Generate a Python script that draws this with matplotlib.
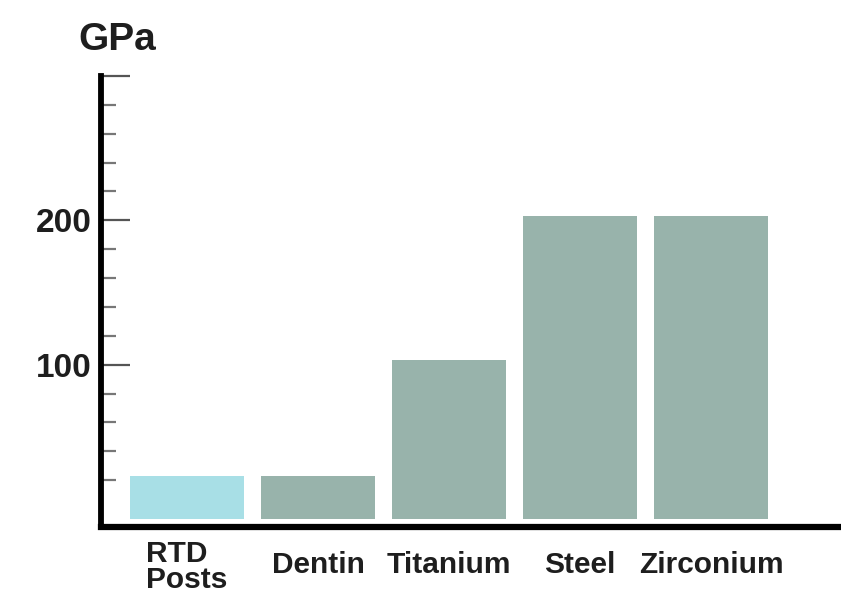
import matplotlib; matplotlib.use('Agg')
import matplotlib.pyplot as plt
import matplotlib.transforms as mtransforms
import numpy as np

plt.rcParams['font.family'] = ['Liberation Sans', 'DejaVu Sans']

#############################################################################
materials = ['RTD\nPosts', 'Dentin', 'Titanium', 'Steel', 'Zirconium']
modulus = [23, 23, 103, 203, 203]   # GPa
bar_colors = ['#a8dfe6', '#98b3ab', '#98b3ab', '#98b3ab', '#98b3ab']
major_ticks = [100, 200, 300]
major_labels = ['100', '200', '']
minor_ticks = [20, 40, 60, 80, 120, 140, 160, 180, 220, 240, 260, 280]
#############################################################################

bar_base = -7      # bars sit a bit above the axis line
text_col = '#1e1e1e'

fig = plt.figure(figsize=(8.41, 5.98), dpi=100)
ax = fig.add_axes([0.1201, 0.1187, 0.880, 0.7542])

x = np.arange(len(materials))
heights = np.array(modulus) - bar_base
ax.bar(x, heights, bottom=bar_base, width=0.87, color=bar_colors, linewidth=0)

ax.set_xlim(-0.656, 4.992)
ax.set_ylim(-12.5, 300)

for s in ['top', 'right']:
    ax.spines[s].set_visible(False)
ax.spines['left'].set_linewidth(4.2)
ax.spines['bottom'].set_linewidth(4.5)
ax.spines['left'].set_color('black')
ax.spines['bottom'].set_color('black')

ax.set_yticks(major_ticks)
ax.set_yticklabels(major_labels)
ax.set_yticks(minor_ticks, minor=True)
ax.tick_params(axis='y', which='major', direction='in', length=21, width=1.6,
               color='#555555', pad=6.5, labelsize=24, labelcolor=text_col)
ax.tick_params(axis='y', which='minor', direction='in', length=11, width=1.6,
               color='#777777')
for lab in ax.get_yticklabels():
    lab.set_fontweight('bold')

ax.set_xticks(x)
ax.set_xticklabels(materials, fontsize=21.5, fontweight='bold', color=text_col,
                   va='center', linespacing=0.9)
ax.tick_params(axis='x', length=0, pad=27)
xlabs = ax.get_xticklabels()
for lab in xlabs:
    lab.set_multialignment('left')
# two-line label sits a little lower in the original
shift = mtransforms.ScaledTranslation(0, -2/72., fig.dpi_scale_trans)
xlabs[0].set_transform(xlabs[0].get_transform() + shift)

fig.text(0.093, 0.916, 'GPa', fontsize=28, fontweight='bold', color=text_col,
         ha='left', va='baseline')

fig.savefig('out.png', dpi=100, facecolor='white')
